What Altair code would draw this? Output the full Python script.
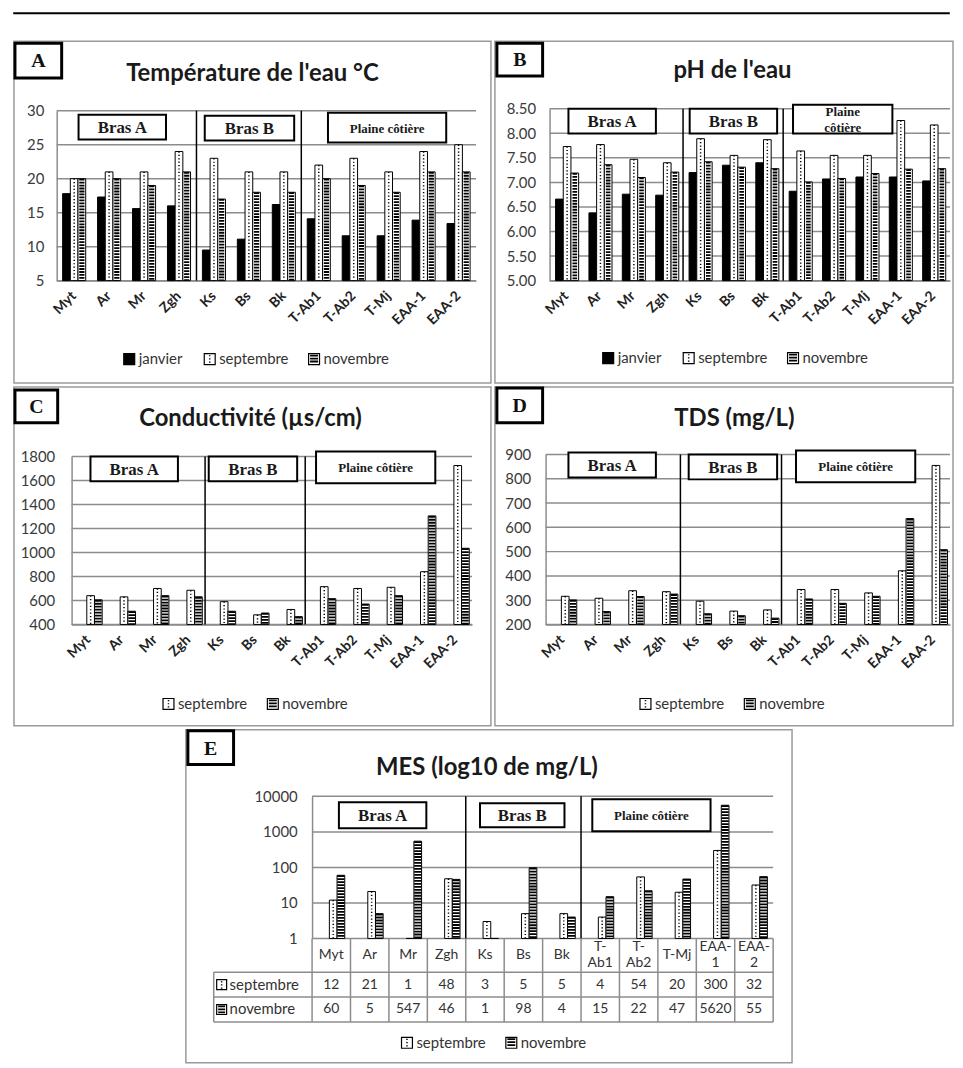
import altair as alt
import pandas as pd

# ---------------- data ----------------
sites = ["Myt", "Ar", "Mr", "Zgh", "Ks", "Bs", "Bk", "T-Ab1", "T-Ab2", "T-Mj", "EAA-1", "EAA-2"]
table_labels = ["Myt", "Ar", "Mr", "Zgh", "Ks", "Bs", "Bk", "T-\nAb1", "T-\nAb2", "T-Mj", "EAA-\n1", "EAA-\n2"]
groups = ["Bras A", "Bras B", "Plaine côtière"]
group_sizes = [4, 3, 5]
months3 = ["janvier", "septembre", "novembre"]
months2 = ["septembre", "novembre"]

temp_jan = [17.8, 17.3, 15.6, 16.0, 9.5, 11.1, 16.2, 14.1, 11.6, 11.6, 13.9, 13.4]
temp_sep = [20, 21, 21, 24, 23, 21, 21, 22, 23, 21, 24, 25]
temp_nov = [20, 20, 19, 21, 17, 18, 18, 20, 19, 18, 21, 21]
temp_ticks = [5, 10, 15, 20, 25, 30]

ph_jan = [6.66, 6.38, 6.76, 6.74, 7.20, 7.35, 7.40, 6.82, 7.07, 7.11, 7.11, 7.03]
ph_sep = [7.73, 7.77, 7.47, 7.40, 7.89, 7.55, 7.87, 7.64, 7.55, 7.55, 8.26, 8.17]
ph_nov = [7.19, 7.36, 7.10, 7.21, 7.42, 7.31, 7.28, 7.01, 7.08, 7.18, 7.27, 7.28]
ph_ticks = [5.0, 5.5, 6.0, 6.5, 7.0, 7.5, 8.0, 8.5]

cond_sep = [640, 630, 700, 685, 590, 480, 525, 715, 700, 710, 840, 1725]
cond_nov = [605, 510, 640, 630, 510, 495, 465, 615, 570, 640, 1305, 1035]
cond_ticks = [400, 600, 800, 1000, 1200, 1400, 1600, 1800]

tds_sep = [316, 308, 339, 335, 296, 255, 260, 344, 344, 330, 421, 855]
tds_nov = [301, 253, 315, 325, 244, 236, 226, 305, 287, 316, 636, 508]
tds_ticks = [200, 300, 400, 500, 600, 700, 800, 900]

mes_sep = [12, 21, 1, 48, 3, 5, 5, 4, 54, 20, 300, 32]
mes_nov = [60, 5, 547, 46, 1, 98, 4, 15, 22, 47, 5620, 55]
mes_ticks = [1, 10, 100, 1000, 10000]

# ---------------- style ----------------
SANS = "Lato"
SERIF = "Liberation Serif"
GRID = "#8c8c8c"
BORDER = "#9a9a9a"
one = pd.DataFrame({"k": [0]})
LEG_W = {"janvier": 46, "septembre": 70, "novembre": 64}


def rect(X, Y, x0, y0, x1, y1, **kw):
    return alt.Chart(one).mark_rect(**kw).encode(
        x=alt.value(X(x0)), x2=alt.value(X(x1)), y=alt.value(Y(y0)), y2=alt.value(Y(y1)))


def hline(X, Y, x0, x1, y, **kw):
    return alt.Chart(one).mark_rule(**kw).encode(
        x=alt.value(X(x0)), x2=alt.value(X(x1)), y=alt.value(Y(y)))


def vline(X, Y, x, y0, y1, **kw):
    return alt.Chart(one).mark_rule(**kw).encode(
        x=alt.value(X(x)), y=alt.value(Y(y0)), y2=alt.value(Y(y1)))


def label(X, Y, x, y, text, **kw):
    return alt.Chart(one).mark_text(text=text, **kw).encode(x=alt.value(X(x)), y=alt.value(Y(y)))


def symbol(X, Y, s, x0, cy, size=11):
    y0 = cy - size / 2
    L = [rect(X, Y, x0, y0, x0 + size, y0 + size,
              fill=("black" if s == "janvier" else "white"), stroke="black", strokeWidth=1.2)]
    if s == "septembre":
        L.append(vline(X, Y, x0 + size / 2, y0 + 1.5, y0 + size - 1, color="black",
                       strokeWidth=1.5, strokeDash=[1.2, 2.0]))
    elif s == "novembre":
        L.append(vline(X, Y, x0 + size / 2, y0 + 1, y0 + size - 1, color="black",
                       strokeWidth=size - 3, strokeDash=[1.8, 1.2]))
    return L


def make_panel(cfg):
    cx0, cy0, cx1, cy1 = cfg["cell"]
    W, H = cx1 - cx0, cy1 - cy0
    X = lambda v: v - cx0
    Y = lambda v: v - cy0
    pl, pt, pr, pb = cfg["plot"]
    xL, xR, yT, yB = X(pl), X(pr), Y(pt), Y(pb)
    n = len(sites)
    step = (xR - xL) / n
    series = cfg["series"]
    ymin = cfg["ydomain"][0]
    rows = []
    for s, vals in zip(series, cfg["values"]):
        for site, v in zip(sites, vals):
            rows.append({"site": site, "series": s, "value": v, "base": ymin})
    df = pd.DataFrame(rows)
    pin = 1 - cfg["frac"]

    if cfg.get("xlabels", True):
        xaxis = alt.Axis(title=None, labelAngle=-45, labelAlign="right", labelBaseline="middle",
                         labelFont=SANS, labelFontSize=14, labelFontWeight="bold",
                         labelColor="#222222", labelPadding=13, labelOverlap=False,
                         ticks=False, domain=True, domainColor=GRID, domainWidth=1.5, grid=False,
                         offset=yB - H)
    else:
        xaxis = None
    xscale = alt.Scale(domain=sites, range=[xL, xR], paddingInner=pin, paddingOuter=pin / 2)
    xenc = alt.X("site:N", sort=sites, scale=xscale, axis=xaxis)
    yscale = alt.Scale(type=cfg["ytype"], domain=cfg["ydomain"], range=[yB, yT],
                       nice=False, zero=False)
    yaxis = alt.Axis(title=None, values=cfg["yticks"], format=cfg["yfmt"], labelFont=SANS,
                     labelFontSize=15, labelColor="#3a3a3a", labelPadding=cfg["ylabpad"],
                     ticks=False, domain=True, domainColor=GRID, domainWidth=1.5,
                     grid=False, offset=-xL)
    yenc = alt.Y("value:Q", scale=yscale, axis=yaxis)
    y2enc = alt.Y2("base:Q")
    xoff = alt.XOffset("series:N", sort=series,
                       scale=alt.Scale(domain=series, paddingInner=0, paddingOuter=0))
    fills = {"janvier": "black", "septembre": "white", "novembre": "white"}
    fenc = alt.Fill("series:N", scale=alt.Scale(domain=series, range=[fills[s] for s in series]),
                    legend=None)
    bw = step * cfg["frac"] / len(series)

    layers = []
    # panel frame
    bx0, by0, bx1, by1 = cfg["border"]
    layers.append(rect(X, Y, bx0, by0, bx1, by1, filled=False, stroke=BORDER, strokeWidth=1.5))

    # horizontal gridlines at the tick values
    gdf = pd.DataFrame({"value": cfg["yticks"]})
    layers.append(alt.Chart(gdf).mark_rule(color=GRID, strokeWidth=1.5).encode(
        y=yenc, x=alt.value(xL), x2=alt.value(xR)))

    base = alt.Chart(df)
    layers.append(base.mark_bar(stroke="black", strokeWidth=1).encode(
        x=xenc, xOffset=xoff, y=yenc, y2=y2enc, fill=fenc))
    layers.append(base.transform_filter(alt.datum.series == "septembre").mark_rule(
        color="black", strokeWidth=1.5, strokeDash=[1.2, 2.2]).encode(
        x=xenc, xOffset=xoff, y=yenc, y2=y2enc))
    layers.append(base.transform_filter(alt.datum.series == "novembre").mark_rule(
        color="black", strokeWidth=max(bw - 2.5, 1), strokeDash=[1.8, 1.2]).encode(
        x=xenc, xOffset=xoff, y=yenc, y2=y2enc))

    # group separators
    acc = 0
    for size in group_sizes[:-1]:
        acc += size
        layers.append(alt.Chart(one).mark_rule(color="black", strokeWidth=1.5).encode(
            x=alt.value(xL + acc * step), y=alt.value(yT), y2=alt.value(yB)))

    # group label boxes
    for gtext, (x0, y0, x1, y1), fs in cfg["boxes"]:
        layers.append(rect(X, Y, x0, y0, x1, y1, fill="white", stroke="black", strokeWidth=2))
        nlines = gtext.count("\n") + 1
        lh = fs + 3
        layers.append(label(X, Y, (x0 + x1) / 2, (y0 + y1) / 2 + 1 - (nlines - 1) * lh / 2, gtext,
                            font=SERIF, fontSize=fs, fontWeight="bold", color="#1a1a1a",
                            align="center", baseline="middle", lineBreak="\n", lineHeight=lh))

    # panel letter
    lx0, ly0, lx1, ly1 = cfg["letter_box"]
    layers.append(rect(X, Y, lx0, ly0, lx1, ly1, fill="white", stroke="black", strokeWidth=3))
    layers.append(label(X, Y, (lx0 + lx1) / 2, (ly0 + ly1) / 2 + 1, cfg["letter"], font=SERIF,
                        fontSize=20, fontWeight="bold", color="#111111", align="center",
                        baseline="middle"))

    # title
    tx, ty = cfg["title_xy"]
    layers.append(label(X, Y, tx, ty, cfg["title"], font=SANS, fontSize=24, fontWeight="bold",
                        color="#1a1a1a", align="center", baseline="alphabetic"))

    # legend
    lcx, lcy = cfg["legend"]
    total = sum(11 + 4 + LEG_W[s] for s in series) + 20 * (len(series) - 1)
    x = lcx - total / 2
    for s in series:
        layers += symbol(X, Y, s, x, lcy)
        layers.append(label(X, Y, x + 15, lcy, s, font=SANS, fontSize=15, color="#333333",
                            align="left", baseline="middle"))
        x += 15 + LEG_W[s] + 20

    # data table (panel E)
    if "table" in cfg:
        tl, (h0, h1), (s0, s1), (n0, n1) = cfg["table"]
        tdf = pd.DataFrame({"site": sites, "label": table_labels,
                            "sep": [str(v) for v in cfg["values"][0]],
                            "nov": [str(v) for v in cfg["values"][1]]})
        xt = alt.X("site:N", sort=sites, scale=xscale, axis=None)
        tc = alt.Chart(tdf)
        hc = (h0 + h1) / 2
        layers.append(tc.transform_filter("indexof(datum.label, '\\n') < 0").mark_text(
            font=SANS, fontSize=14, color="#333333", baseline="middle").encode(
            x=xt, y=alt.value(Y(hc)), text="label:N"))
        layers.append(tc.transform_filter("indexof(datum.label, '\\n') >= 0").mark_text(
            font=SANS, fontSize=14, color="#333333", lineBreak="\n", lineHeight=16,
            baseline="middle").encode(
            x=xt, y=alt.value(Y(hc - 8)), text="label:N"))
        layers.append(tc.mark_text(font=SANS, fontSize=14, color="#333333", baseline="middle").encode(
            x=xt, y=alt.value(Y((s0 + s1) / 2)), text="sep:N"))
        layers.append(tc.mark_text(font=SANS, fontSize=14, color="#333333", baseline="middle").encode(
            x=xt, y=alt.value(Y((n0 + n1) / 2)), text="nov:N"))
        for k in range(n + 1):
            layers.append(alt.Chart(one).mark_rule(color=GRID, strokeWidth=1.5).encode(
                x=alt.value(xL + k * step), y=alt.value(Y(h0)), y2=alt.value(Y(n1))))
        layers.append(vline(X, Y, tl, s0, n1, color=GRID, strokeWidth=1.5))
        for yy in (s0, n0, n1):
            layers.append(hline(X, Y, tl, pr, yy, color=GRID, strokeWidth=1.5))
        for s, (r0, r1) in zip(series, [(s0, s1), (n0, n1)]):
            layers += symbol(X, Y, s, tl + 3, (r0 + r1) / 2, size=10)
            layers.append(label(X, Y, tl + 16, (r0 + r1) / 2, s, font=SANS, fontSize=15,
                                color="#333333", align="left", baseline="middle"))

    return alt.layer(*layers).properties(width=W, height=H)


# black rule across the top of the figure
top_cell = (12, 11, 953, 13)
top_rule = alt.Chart(one).mark_rule(color="black", strokeWidth=2).encode(
    x=alt.value(-0.75), x2=alt.value(top_cell[2] - top_cell[0] + 0.75), y=alt.value(1)
).properties(width=top_cell[2] - top_cell[0], height=top_cell[3] - top_cell[1])

panelA = dict(cell=(12, 13, 492, 382), plot=(55, 108, 477, 279), border=(12, 38, 492, 382),
              letter="A", letter_box=(13, 40, 60, 75),
              title="Température de l'eau °C", title_xy=(252, 78),
              ydomain=[5, 30], ytype="linear", yticks=temp_ticks, yfmt="d", ylabpad=13,
              series=months3, values=[temp_jan, temp_sep, temp_nov], frac=0.66,
              boxes=[(groups[0], (77, 112, 165, 137), 17), (groups[1], (204, 113, 294, 138), 17),
                     (groups[2], (328, 110, 447, 140), 13)],
              legend=(255, 358))

panelB = dict(cell=(492, 13, 953, 382), plot=(547, 106, 950, 279), border=(492, 38, 953, 382),
              letter="B", letter_box=(494, 40, 540, 73),
              title="pH de l'eau", title_xy=(731, 75),
              ydomain=[5, 8.5], ytype="linear", yticks=ph_ticks, yfmt=".2f", ylabpad=14,
              series=months3, values=[ph_jan, ph_sep, ph_nov], frac=0.64,
              boxes=[(groups[0], (566, 106, 654, 131), 17), (groups[1], (688, 106, 776, 131), 17),
                     (groups[2].replace(" ", "\n"), (792, 102, 892, 131), 13)],
              legend=(733, 357))

panelC = dict(cell=(12, 382, 492, 723), plot=(70, 452, 473, 621), border=(12, 382, 492, 723),
              letter="C", letter_box=(13, 385, 56, 418),
              title="Conductivité (µs/cm)", title_xy=(250, 421),
              ydomain=[400, 1800], ytype="linear", yticks=cond_ticks, yfmt="d", ylabpad=17,
              series=months2, values=[cond_sep, cond_nov], frac=0.55,
              boxes=[(groups[0], (89, 452, 177, 477), 17), (groups[1], (208, 452, 297, 477), 17),
                     (groups[2], (316, 447, 436, 479), 13)],
              legend=(254, 701))

panelD = dict(cell=(492, 382, 953, 723), plot=(543, 450, 950, 621), border=(492, 382, 953, 723),
              letter="D", letter_box=(494, 383, 540, 418),
              title="TDS (mg/L)", title_xy=(733, 421),
              ydomain=[200, 900], ytype="linear", yticks=tds_ticks, yfmt="d", ylabpad=15,
              series=months2, values=[tds_sep, tds_nov], frac=0.52,
              boxes=[(groups[0], (566, 448, 654, 473), 17), (groups[1], (687, 450, 776, 475), 17),
                     (groups[2], (795, 446, 915, 478), 13)],
              legend=(730, 701))

panelE = dict(cell=(12, 723, 795, 1058), plot=(312, 790, 776, 933), border=(185, 723, 795, 1058),
              letter="E", letter_box=(187, 724, 233, 758),
              title="MES (log10 de mg/L)", title_xy=(488, 768),
              ydomain=[1, 10000], ytype="log", yticks=mes_ticks, yfmt="d", ylabpad=15,
              series=months2, values=[mes_sep, mes_nov], frac=0.5, xlabels=False,
              boxes=[(groups[0], (339, 796, 427, 822), 17), (groups[1], (481, 797, 566, 821), 17),
                     (groups[2], (594, 793, 713, 825), 13)],
              table=(213, (933, 967), (967, 992), (992, 1017)),
              legend=(494, 1038))

row1 = alt.concat(make_panel(panelA), make_panel(panelB), columns=2, align="none",
                  bounds="full", spacing=0)
row2 = alt.concat(make_panel(panelC), make_panel(panelD), columns=2, align="none",
                  bounds="full", spacing=0)
chart = alt.concat(top_rule, row1, row2, make_panel(panelE), columns=1, align="none",
                   bounds="full", spacing=0).properties(
    padding={"left": 3, "top": 0, "right": 0, "bottom": 0}
).configure_view(stroke="transparent")

chart.save("out.html", embed_options={"renderer": "svg", "actions": False})
